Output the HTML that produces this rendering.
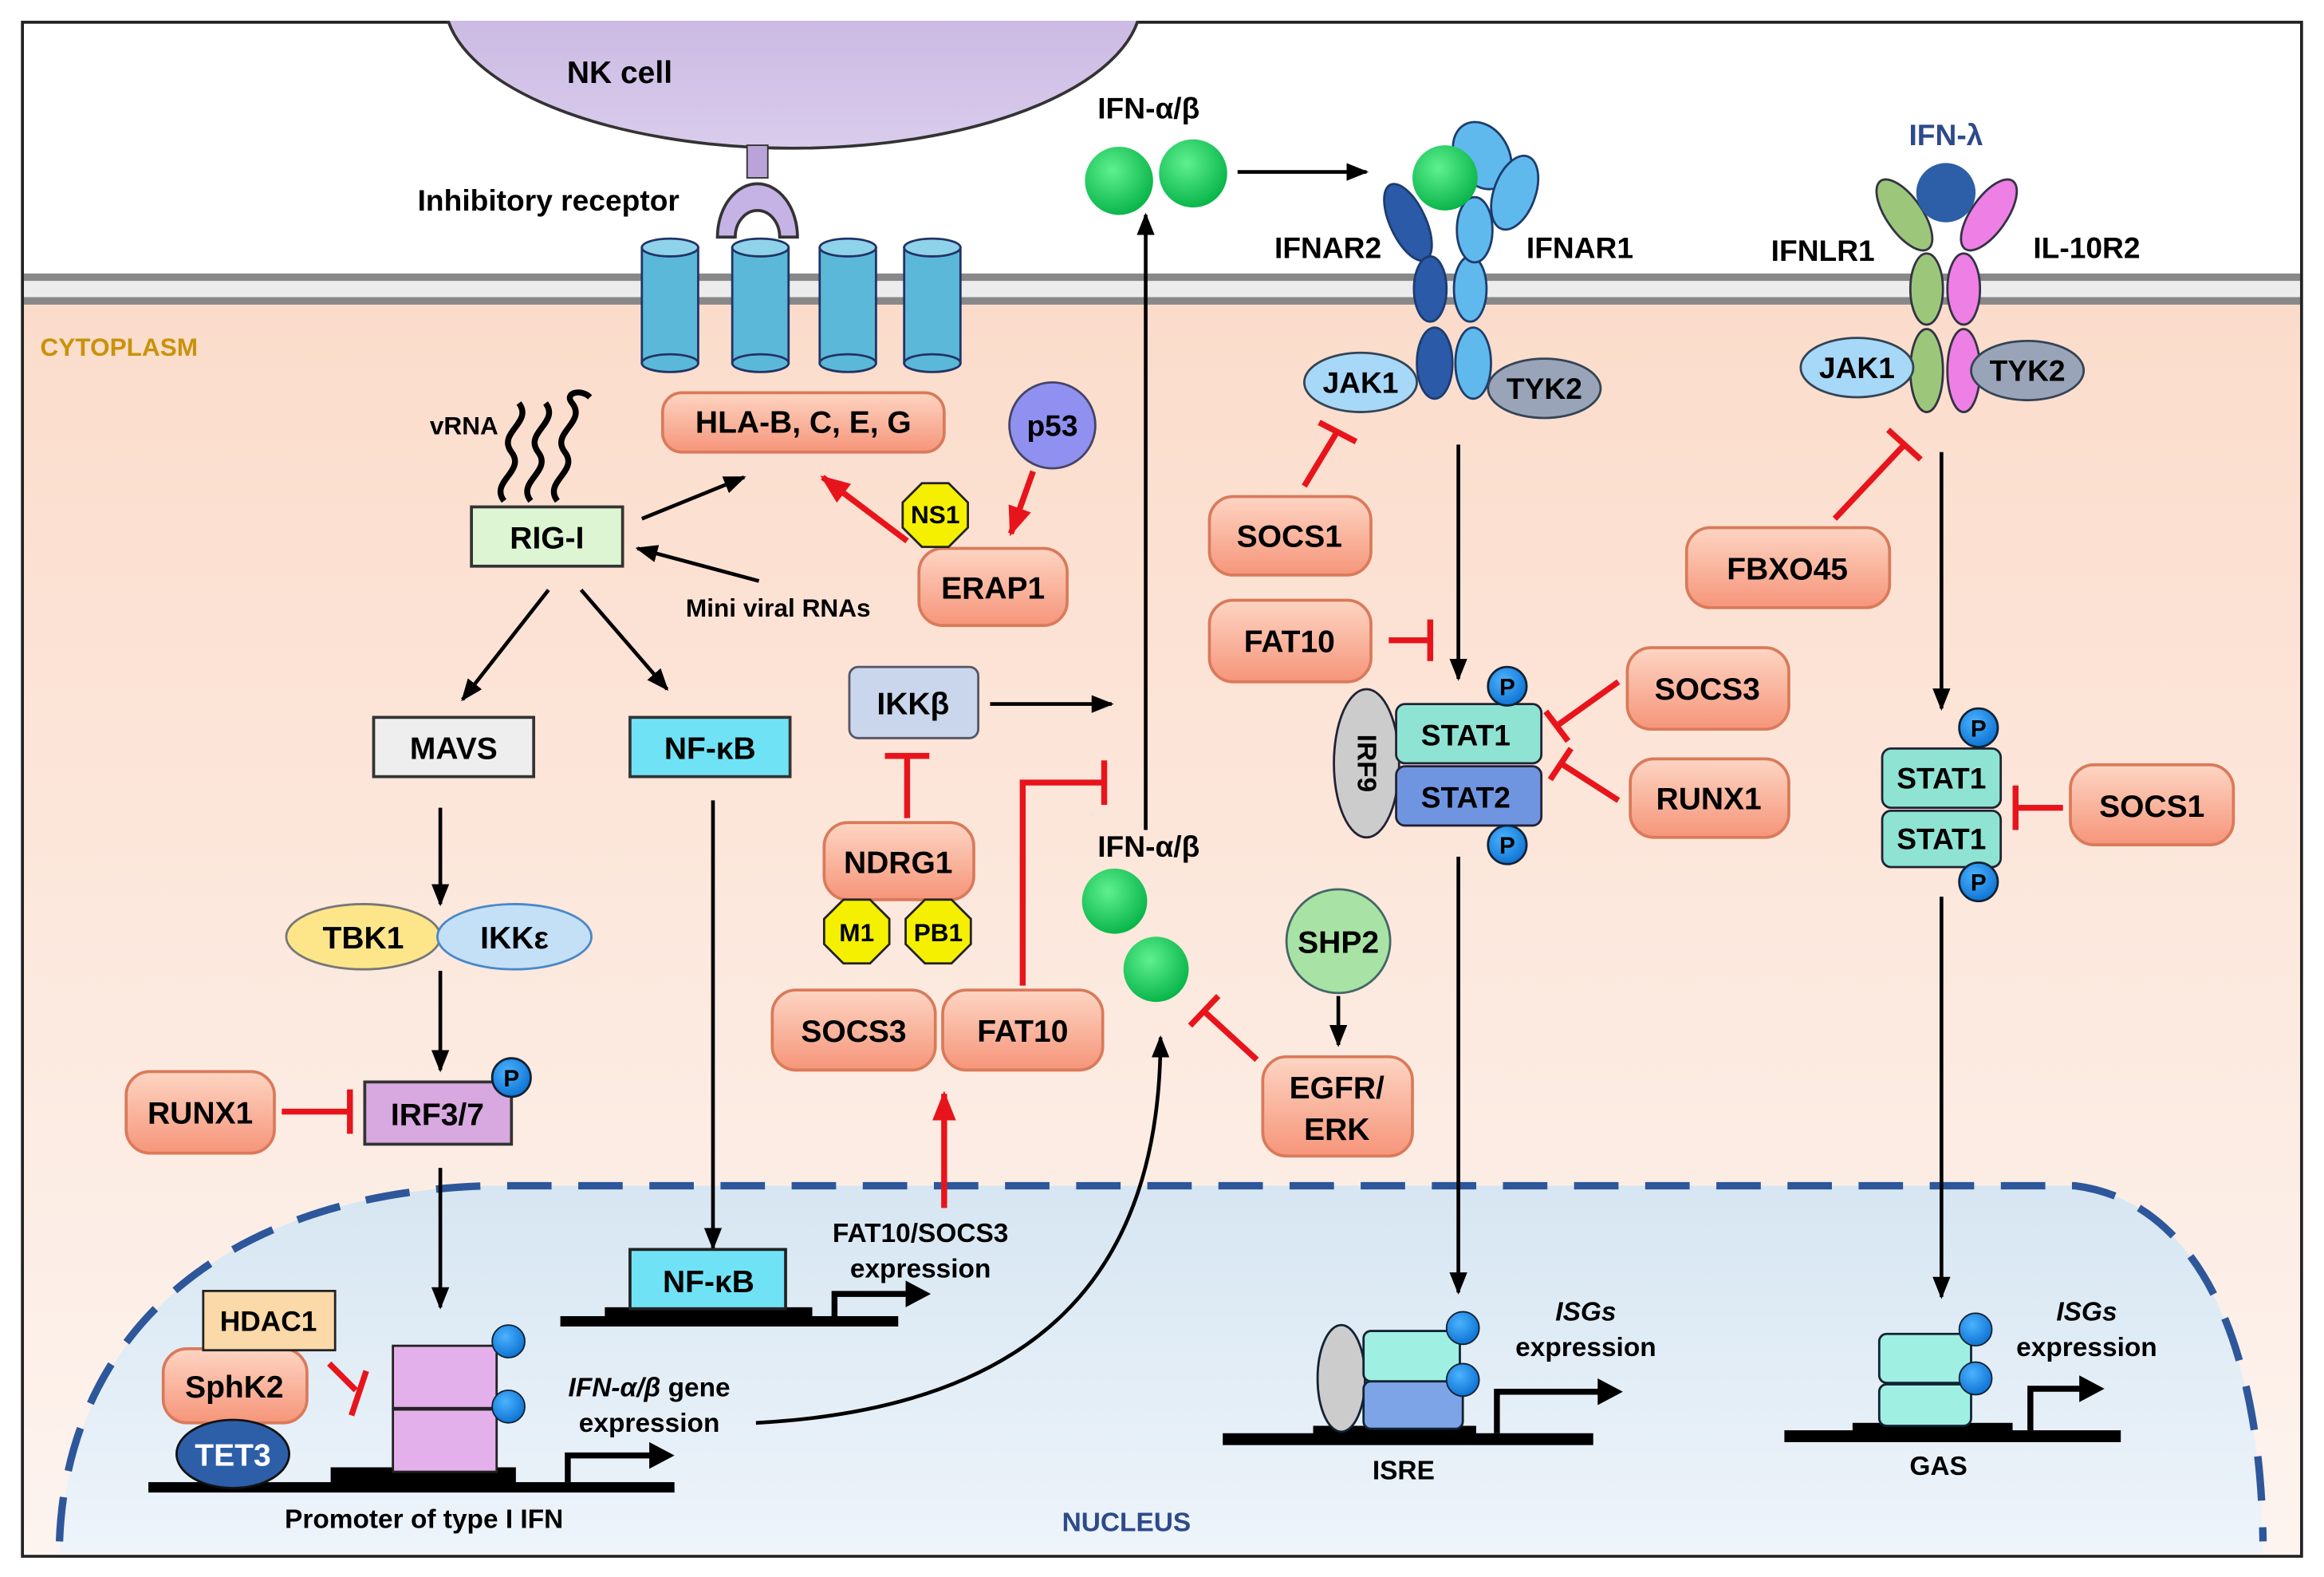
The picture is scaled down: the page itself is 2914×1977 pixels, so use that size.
<!DOCTYPE html>
<html><head><meta charset="utf-8"><style>
html,body{margin:0;padding:0;background:#fff;}
svg{display:block;}
text{font-family:"Liberation Sans",sans-serif;font-weight:bold;}
</style></head><body>
<svg width="2914" height="1977" viewBox="0 0 1568 1064" xmlns="http://www.w3.org/2000/svg">
<defs>
<linearGradient id="cyto" x1="0" y1="0" x2="0" y2="1"><stop offset="0" stop-color="#fbdccb"/><stop offset="1" stop-color="#fdf4ef"/></linearGradient>
<linearGradient id="nuc" x1="0" y1="0" x2="0" y2="1"><stop offset="0" stop-color="#d6e6f2"/><stop offset="1" stop-color="#eef4fa"/></linearGradient>
<linearGradient id="sal" x1="0" y1="0" x2="0" y2="1"><stop offset="0" stop-color="#fdd5c3"/><stop offset="1" stop-color="#f6957a"/></linearGradient>
<linearGradient id="nk" x1="0" y1="0" x2="0" y2="1"><stop offset="0" stop-color="#b9a3d8"/><stop offset="1" stop-color="#d9ccec"/></linearGradient>
<radialGradient id="grn" cx="0.4" cy="0.35" r="0.7"><stop offset="0" stop-color="#5ff08f"/><stop offset="1" stop-color="#04b246"/></radialGradient>
<radialGradient id="pc" cx="0.4" cy="0.35" r="0.7"><stop offset="0" stop-color="#4bb3ff"/><stop offset="1" stop-color="#0a6fd0"/></radialGradient>
<marker id="ah" viewBox="0 0 10 10" refX="9" refY="5" markerWidth="6" markerHeight="6" orient="auto"><path d="M0,1 L10,5 L0,9 z" fill="#000"/></marker>
<marker id="ahr" viewBox="0 0 10 10" refX="9" refY="5" markerWidth="5" markerHeight="5" orient="auto"><path d="M0,1 L10,5 L0,9 z" fill="#e8141b"/></marker>
</defs>

<rect x="15" y="15" width="1538" height="1035" fill="#fff" stroke="#222" stroke-width="2"/>
<rect x="16" y="205" width="1536" height="844" fill="url(#cyto)"/>
<path d="M40,1048 C45,900 150,805 330,800 L1400,800 C1480,810 1525,900 1527,1048 Z" fill="url(#nuc)"/>
<path d="M40,1040 C45,900 150,805 330,800 L1400,800 C1480,810 1525,900 1527,1040" fill="none" stroke="#2d579a" stroke-width="5" stroke-dasharray="30,18"/>
<rect x="16" y="185" width="1536" height="20" fill="#ececec"/>
<line x1="16" y1="187" x2="1552" y2="187" stroke="#888" stroke-width="5"/>
<line x1="16" y1="203" x2="1552" y2="203" stroke="#888" stroke-width="5"/>

<ellipse cx="535" cy="0" rx="235" ry="100" fill="url(#nk)" stroke="#333" stroke-width="2"/>
<rect x="16" y="0" width="1536" height="14" fill="#fff"/>
<text x="418" y="56" font-size="21" text-anchor="middle">NK cell</text>
<rect x="504" y="98" width="14" height="22" fill="#b9a3d8" stroke="#333"/>
<path d="M484,160 A27,36 0 0 1 538,160 L526,160 A15,18 0 0 0 496,160 Z" fill="#c5b3e6" stroke="#333" stroke-width="2"/>
<text x="370" y="142" font-size="20" text-anchor="middle">Inhibitory receptor</text>
<g fill="#5bb8d8" stroke="#236" stroke-width="1.5">
<rect x="433" y="167" width="38" height="78"/><ellipse cx="452" cy="167" rx="19" ry="6" fill="#8fd3ea"/><ellipse cx="452" cy="245" rx="19" ry="6"/>
<rect x="494" y="167" width="38" height="78"/><ellipse cx="513" cy="167" rx="19" ry="6" fill="#8fd3ea"/><ellipse cx="513" cy="245" rx="19" ry="6"/>
<rect x="553" y="167" width="38" height="78"/><ellipse cx="572" cy="167" rx="19" ry="6" fill="#8fd3ea"/><ellipse cx="572" cy="245" rx="19" ry="6"/>
<rect x="610" y="167" width="38" height="78"/><ellipse cx="629" cy="167" rx="19" ry="6" fill="#8fd3ea"/><ellipse cx="629" cy="245" rx="19" ry="6"/>
</g>
<text x="27" y="240" font-size="17" fill="#c9920a">CYTOPLASM</text>

<g fill="url(#sal)" stroke="#d97a5a" stroke-width="2">
<rect x="447" y="265" width="190" height="40" rx="13"/>
<rect x="620" y="370" width="100" height="52" rx="16"/>
<rect x="85" y="723" width="100" height="55" rx="16"/>
<rect x="556" y="555" width="101" height="52" rx="16"/>
<rect x="521" y="668" width="110" height="54" rx="16"/>
<rect x="636" y="668" width="108" height="54" rx="16"/>
<rect x="852" y="713" width="101" height="67" rx="16"/>
<rect x="816" y="335" width="109" height="53" rx="16"/>
<rect x="816" y="405" width="109" height="55" rx="16"/>
<rect x="1098" y="437" width="109" height="55" rx="16"/>
<rect x="1100" y="512" width="107" height="53" rx="16"/>
<rect x="1138" y="356" width="137" height="54" rx="16"/>
<rect x="1397" y="516" width="110" height="54" rx="16"/>
<rect x="110" y="910" width="97" height="50" rx="16"/>
</g>
<g font-size="21" text-anchor="middle">
<text x="542" y="292">HLA-B, C, E, G</text>
<text x="670" y="404">ERAP1</text>
<text x="135" y="758">RUNX1</text>
<text x="606" y="589">NDRG1</text>
<text x="576" y="703">SOCS3</text>
<text x="690" y="703">FAT10</text>
<text x="902" y="741">EGFR/</text><text x="902" y="769">ERK</text>
<text x="870" y="369">SOCS1</text>
<text x="870" y="440">FAT10</text>
<text x="1152" y="472">SOCS3</text>
<text x="1153" y="546">RUNX1</text>
<text x="1206" y="391">FBXO45</text>
<text x="1452" y="551">SOCS1</text>
<text x="158" y="943">SphK2</text>
</g>

<circle cx="710" cy="287" r="29" fill="#8f90f0" stroke="#446" stroke-width="1.5"/>
<text x="710" y="294" font-size="20" text-anchor="middle">p53</text>
<g fill="#f5f000" stroke="#222" stroke-width="1.5">
<polygon points="622,326 640,326 653,339 653,356 640,369 622,369 609,356 609,339"/>
<polygon points="569,607 587,607 600,620 600,637 587,650 569,650 556,637 556,620"/>
<polygon points="624,607 642,607 655,620 655,637 642,650 624,650 611,637 611,620"/>
</g>
<text x="631" y="353" font-size="17" text-anchor="middle">NS1</text>
<text x="578" y="635" font-size="17" text-anchor="middle">M1</text>
<text x="633" y="635" font-size="17" text-anchor="middle">PB1</text>

<g fill="none" stroke="#000" stroke-width="4">
<path d="M340,338 C330,325 355,318 345,305 C335,292 360,285 350,272"/>
<path d="M358,338 C348,325 373,318 363,305 C353,292 378,285 368,272"/>
<path d="M376,338 C366,325 391,318 381,305 C371,292 396,285 386,272 C380,265 392,262 398,268"/>
</g>
<text x="313" y="293" font-size="17" text-anchor="middle">vRNA</text>
<rect x="318" y="342" width="102" height="40" fill="#ddf5d3" stroke="#333" stroke-width="2"/>
<text x="369" y="370" font-size="21" text-anchor="middle">RIG-I</text>
<text x="525" y="416" font-size="17" text-anchor="middle">Mini viral RNAs</text>

<rect x="252" y="484" width="108" height="40" fill="#eee" stroke="#333" stroke-width="2"/>
<text x="306" y="512" font-size="21" text-anchor="middle">MAVS</text>
<rect x="425" y="484" width="108" height="40" fill="#6fe3f5" stroke="#333" stroke-width="2"/>
<text x="479" y="512" font-size="21" text-anchor="middle">NF-κB</text>

<ellipse cx="245" cy="632" rx="52" ry="22" fill="#fde68a" stroke="#777" stroke-width="1.5"/>
<ellipse cx="347" cy="632" rx="52" ry="22" fill="#c4e0f7" stroke="#4a88c8" stroke-width="1.5"/>
<text x="245" y="640" font-size="21" text-anchor="middle">TBK1</text>
<text x="347" y="640" font-size="21" text-anchor="middle">IKKε</text>

<rect x="246" y="730" width="99" height="42" fill="#d8a8e0" stroke="#333" stroke-width="2"/>
<text x="295" y="759" font-size="21" text-anchor="middle">IRF3/7</text>

<rect x="573" y="450" width="87" height="48" rx="6" fill="#c9d6ec" stroke="#556" stroke-width="1.5"/>
<text x="616" y="482" font-size="21" text-anchor="middle">IKKβ</text>

<circle cx="755" cy="122" r="23" fill="url(#grn)"/>
<circle cx="805" cy="117" r="23" fill="url(#grn)"/>
<circle cx="752" cy="608" r="22" fill="url(#grn)"/>
<circle cx="780" cy="654" r="22" fill="url(#grn)"/>
<text x="775" y="80" font-size="20" text-anchor="middle">IFN-α/β</text>
<text x="775" y="578" font-size="20" text-anchor="middle">IFN-α/β</text>

<circle cx="903" cy="635" r="35" fill="#a8e3a5" stroke="#466" stroke-width="1.5"/>
<text x="903" y="643" font-size="21" text-anchor="middle">SHP2</text>

<g stroke="#1d3c6e" stroke-width="1.5">
<ellipse cx="1000" cy="105" rx="18" ry="24" fill="#5fb9ec" transform="rotate(-30 1000 105)"/>
<ellipse cx="1022" cy="130" rx="14" ry="26" fill="#5fb9ec" transform="rotate(20 1022 130)"/>
<ellipse cx="950" cy="150" rx="12" ry="28" fill="#2a5aa8" transform="rotate(-25 950 150)"/>
<ellipse cx="965" cy="195" rx="11" ry="22" fill="#2a5aa8"/>
<ellipse cx="968" cy="245" rx="12" ry="24" fill="#2a5aa8"/>
<ellipse cx="992" cy="195" rx="11" ry="22" fill="#5fb9ec"/>
<ellipse cx="994" cy="245" rx="12" ry="24" fill="#5fb9ec"/>
<ellipse cx="995" cy="155" rx="12" ry="22" fill="#5fb9ec"/>
</g>
<circle cx="975" cy="120" r="22" fill="url(#grn)"/>
<text x="896" y="174" font-size="20" text-anchor="middle">IFNAR2</text>
<text x="1066" y="174" font-size="20" text-anchor="middle">IFNAR1</text>
<ellipse cx="918" cy="258" rx="38" ry="20" fill="#a8d8f7" stroke="#345" stroke-width="1.5"/>
<ellipse cx="1042" cy="262" rx="38" ry="20" fill="#9aa4b8" stroke="#345" stroke-width="1.5"/>
<text x="918" y="265" font-size="20" text-anchor="middle">JAK1</text>
<text x="1042" y="269" font-size="20" text-anchor="middle">TYK2</text>

<text x="1313" y="98" font-size="20" text-anchor="middle" fill="#2d4a8a">IFN-λ</text>
<g stroke="#334" stroke-width="1.5">
<ellipse cx="1285" cy="145" rx="12" ry="28" fill="#9cc77a" transform="rotate(-35 1285 145)"/>
<ellipse cx="1342" cy="145" rx="12" ry="28" fill="#ee7fe5" transform="rotate(35 1342 145)"/>
<ellipse cx="1300" cy="195" rx="11" ry="24" fill="#9cc77a"/>
<ellipse cx="1300" cy="250" rx="11" ry="28" fill="#9cc77a"/>
<ellipse cx="1325" cy="195" rx="11" ry="24" fill="#ee7fe5"/>
<ellipse cx="1325" cy="250" rx="11" ry="28" fill="#ee7fe5"/>
</g>
<circle cx="1313" cy="130" r="20" fill="#2d5ea8"/>
<text x="1230" y="176" font-size="20" text-anchor="middle">IFNLR1</text>
<text x="1408" y="174" font-size="20" text-anchor="middle">IL-10R2</text>
<ellipse cx="1253" cy="248" rx="38" ry="20" fill="#a8d8f7" stroke="#345" stroke-width="1.5"/>
<ellipse cx="1368" cy="250" rx="38" ry="20" fill="#9aa4b8" stroke="#345" stroke-width="1.5"/>
<text x="1253" y="255" font-size="20" text-anchor="middle">JAK1</text>
<text x="1368" y="257" font-size="20" text-anchor="middle">TYK2</text>

<ellipse cx="922" cy="515" rx="22" ry="50" fill="#ccc" stroke="#223" stroke-width="1.5"/>
<text x="922" y="515" font-size="18" text-anchor="middle" transform="rotate(90 922 515)" dy="6">IRF9</text>
<rect x="942" y="475" width="98" height="40" rx="6" fill="#8fe3d3" stroke="#223" stroke-width="1.5"/>
<rect x="942" y="517" width="98" height="40" rx="6" fill="#6f94e0" stroke="#223" stroke-width="1.5"/>
<text x="989" y="503" font-size="20" text-anchor="middle">STAT1</text>
<text x="989" y="545" font-size="20" text-anchor="middle">STAT2</text>
<rect x="1270" y="505" width="80" height="40" rx="6" fill="#8fe3d3" stroke="#223" stroke-width="1.5"/>
<rect x="1270" y="547" width="80" height="38" rx="6" fill="#8fe3d3" stroke="#223" stroke-width="1.5"/>
<text x="1310" y="532" font-size="20" text-anchor="middle">STAT1</text>
<text x="1310" y="573" font-size="20" text-anchor="middle">STAT1</text>
<g fill="url(#pc)" stroke="#123" stroke-width="1.5">
<circle cx="1017" cy="463" r="13"/><circle cx="1017" cy="570" r="13"/>
<circle cx="1335" cy="491" r="13"/><circle cx="1335" cy="595" r="13"/>
<circle cx="345" cy="727" r="13"/>
</g>
<g font-size="16" text-anchor="middle"><text x="1017" y="469">P</text><text x="1017" y="576">P</text><text x="1335" y="497">P</text><text x="1335" y="601">P</text><text x="345" y="733">P</text></g>

<g stroke="#000" stroke-width="2.5" fill="none" marker-end="url(#ah)">
<line x1="433" y1="350" x2="502" y2="322"/>
<line x1="512" y1="392" x2="430" y2="370"/>
<line x1="370" y1="398" x2="312" y2="472"/>
<line x1="392" y1="398" x2="450" y2="465"/>
<line x1="297" y1="545" x2="297" y2="610"/>
<line x1="297" y1="655" x2="297" y2="722"/>
<line x1="297" y1="788" x2="297" y2="882"/>
<line x1="481" y1="540" x2="481" y2="842"/>
<line x1="668" y1="475" x2="750" y2="475"/>
<line x1="773" y1="560" x2="773" y2="145"/>
<line x1="835" y1="116" x2="922" y2="116"/>
<line x1="903" y1="672" x2="903" y2="705"/>
<line x1="984" y1="300" x2="984" y2="458"/>
<line x1="984" y1="578" x2="984" y2="872"/>
<line x1="1310" y1="305" x2="1310" y2="478"/>
<line x1="1310" y1="605" x2="1310" y2="875"/>
<path d="M510,960 C700,950 783,860 783,700"/>
</g>
<g stroke="#e8141b" stroke-width="4" fill="none">
<line x1="612" y1="365" x2="555" y2="322" marker-end="url(#ahr)"/>
<line x1="697" y1="318" x2="682" y2="360" marker-end="url(#ahr)"/>
<line x1="637" y1="815" x2="637" y2="738" marker-end="url(#ahr)"/>
<line x1="190" y1="750" x2="236" y2="750"/><line x1="236" y1="735" x2="236" y2="765"/>
<line x1="612" y1="552" x2="612" y2="510"/><line x1="597" y1="510" x2="627" y2="510"/>
<polyline points="690,665 690,528 745,528"/><line x1="745" y1="513" x2="745" y2="543"/>
<line x1="848" y1="715" x2="812" y2="682"/><line x1="803" y1="692" x2="822" y2="672"/>
<line x1="880" y1="328" x2="903" y2="290"/><line x1="890" y1="285" x2="915" y2="298"/>
<line x1="937" y1="432" x2="965" y2="432"/><line x1="965" y1="418" x2="965" y2="446"/>
<line x1="1092" y1="460" x2="1050" y2="490"/><line x1="1043" y1="480" x2="1058" y2="500"/>
<line x1="1092" y1="540" x2="1053" y2="515"/><line x1="1046" y1="526" x2="1060" y2="505"/>
<line x1="1238" y1="350" x2="1285" y2="300"/><line x1="1274" y1="290" x2="1296" y2="310"/>
<line x1="1392" y1="545" x2="1360" y2="545"/><line x1="1360" y1="530" x2="1360" y2="560"/>
<line x1="222" y1="920" x2="240" y2="938"/><line x1="247" y1="925" x2="237" y2="955"/>
</g>

<text x="760" y="1033" font-size="18" text-anchor="middle" fill="#2d4a8a">NUCLEUS</text>
<rect x="100" y="1000" width="355" height="7" fill="#000"/>
<rect x="223" y="990" width="125" height="12" fill="#000"/>
<path d="M383,1000 V982 H440" stroke="#000" stroke-width="4" fill="none"/><path d="M438,973 L455,982 L438,991 Z" fill="#000"/>
<rect x="265" y="908" width="70" height="42" fill="#e4b0ec" stroke="#222" stroke-width="1.5"/>
<rect x="265" y="951" width="70" height="42" fill="#e4b0ec" stroke="#222" stroke-width="1.5"/>
<circle cx="343" cy="905" r="11" fill="url(#pc)" stroke="#123"/><circle cx="343" cy="949" r="11" fill="url(#pc)" stroke="#123"/>
<rect x="137" y="871" width="89" height="40" fill="#fbd9a8" stroke="#222" stroke-width="1.5"/>
<text x="181" y="898" font-size="19" text-anchor="middle">HDAC1</text>
<ellipse cx="157" cy="981" rx="38" ry="23" fill="#2d5ea8" stroke="#111" stroke-width="1.5"/>
<text x="157" y="989" font-size="21" text-anchor="middle" fill="#fff">TET3</text>
<text x="286" y="1031" font-size="18" text-anchor="middle">Promoter of type I IFN</text>
<text x="438" y="942" font-size="18" text-anchor="middle" font-style="italic">IFN-α/β <tspan font-style="normal">gene</tspan></text>
<text x="438" y="966" font-size="18" text-anchor="middle">expression</text>
<rect x="378" y="888" width="228" height="7" fill="#000"/>
<rect x="408" y="882" width="140" height="9" fill="#000"/>
<rect x="425" y="843" width="105" height="40" fill="#6fe3f5" stroke="#222" stroke-width="2"/>
<text x="478" y="872" font-size="21" text-anchor="middle">NF-κB</text>
<path d="M563,888 V873 H613" stroke="#000" stroke-width="4" fill="none"/><path d="M611,864 L628,873 L611,882 Z" fill="#000"/>
<text x="621" y="838" font-size="18" text-anchor="middle">FAT10/SOCS3</text>
<text x="621" y="862" font-size="18" text-anchor="middle">expression</text>
<rect x="825" y="967" width="250" height="8" fill="#000"/>
<rect x="886" y="962" width="110" height="10" fill="#000"/>
<ellipse cx="905" cy="930" rx="16" ry="36" fill="#ccc" stroke="#123" stroke-width="1.5"/>
<rect x="920" y="898" width="65" height="34" rx="5" fill="#9ff0e2" stroke="#123" stroke-width="1.5"/>
<rect x="920" y="932" width="67" height="32" rx="5" fill="#7ea4e8" stroke="#123" stroke-width="1.5"/>
<circle cx="987" cy="896" r="11" fill="url(#pc)" stroke="#123"/><circle cx="987" cy="931" r="11" fill="url(#pc)" stroke="#123"/>
<path d="M1010,967 V939 H1080" stroke="#000" stroke-width="4" fill="none"/><path d="M1078,930 L1095,939 L1078,948 Z" fill="#000"/>
<text x="1070" y="891" font-size="18" text-anchor="middle" font-style="italic">ISGs</text>
<text x="1070" y="915" font-size="18" text-anchor="middle">expression</text>
<text x="947" y="998" font-size="18" text-anchor="middle">ISRE</text>
<rect x="1204" y="965" width="227" height="8" fill="#000"/>
<rect x="1250" y="960" width="108" height="10" fill="#000"/>
<rect x="1268" y="900" width="62" height="33" rx="5" fill="#9ff0e2" stroke="#123" stroke-width="1.5"/>
<rect x="1268" y="934" width="62" height="28" rx="5" fill="#9ff0e2" stroke="#123" stroke-width="1.5"/>
<circle cx="1333" cy="897" r="11" fill="url(#pc)" stroke="#123"/><circle cx="1333" cy="930" r="11" fill="url(#pc)" stroke="#123"/>
<path d="M1370,965 V937 H1405" stroke="#000" stroke-width="4" fill="none"/><path d="M1403,928 L1420,937 L1403,946 Z" fill="#000"/>
<text x="1408" y="891" font-size="18" text-anchor="middle" font-style="italic">ISGs</text>
<text x="1408" y="915" font-size="18" text-anchor="middle">expression</text>
<text x="1308" y="995" font-size="18" text-anchor="middle">GAS</text>
</svg>
</body></html>
